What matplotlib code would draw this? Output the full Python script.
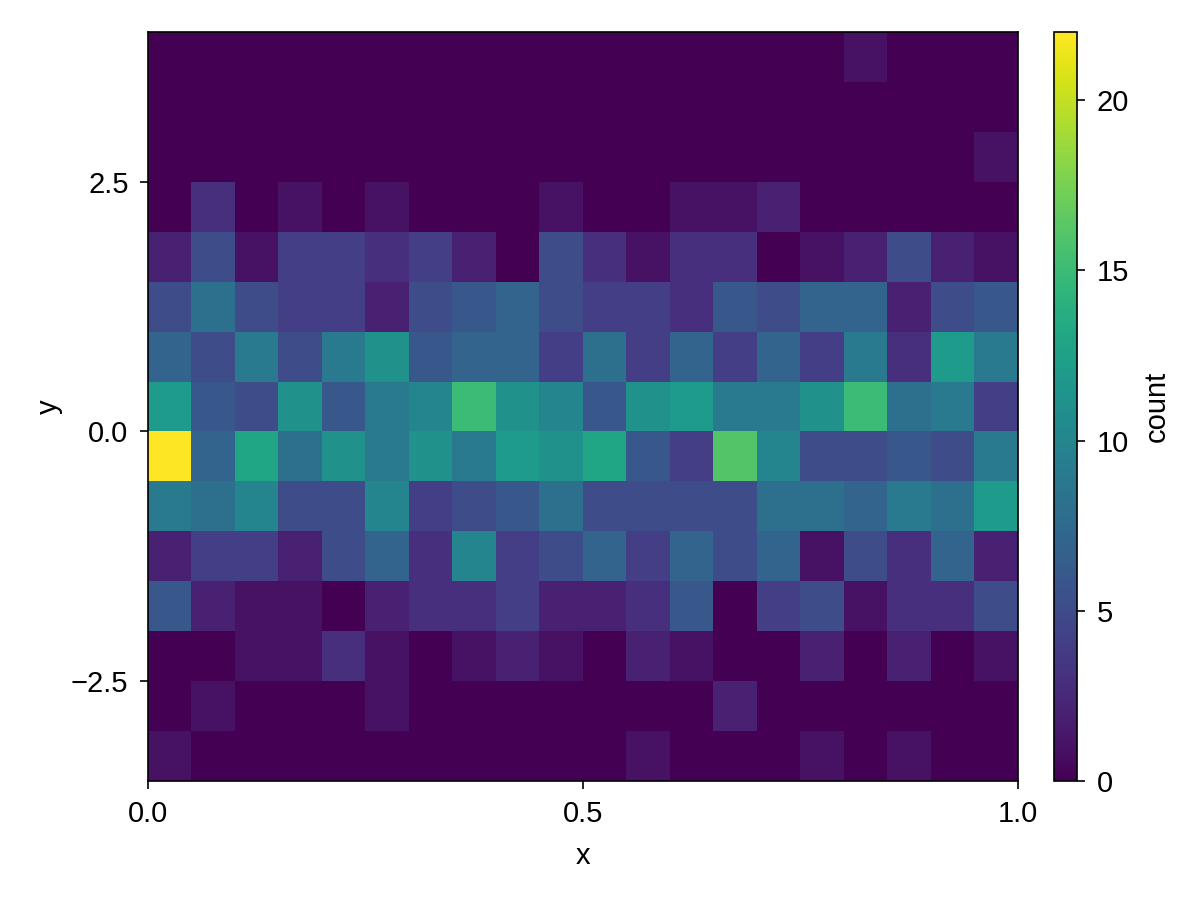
import matplotlib
matplotlib.use("Agg")
import matplotlib.pyplot as plt
import numpy as np

plt.rcParams['font.family'] = ['Liberation Sans', 'DejaVu Sans']
plt.rcParams['font.size'] = 10.5

# bin edges
x_edges = np.linspace(0.0, 1.0, 21)
y_edges = np.arange(-3.5, 4.01, 0.5)

# counts, rows listed from top (y 3.5..4.0) to bottom (y -3.5..-3.0)
counts_top_down = [
    [0, 0, 0, 0, 0, 0, 0, 0, 0, 0, 0, 0, 0, 0, 0, 0, 1, 0, 0, 0],
    [0, 0, 0, 0, 0, 0, 0, 0, 0, 0, 0, 0, 0, 0, 0, 0, 0, 0, 0, 0],
    [0, 0, 0, 0, 0, 0, 0, 0, 0, 0, 0, 0, 0, 0, 0, 0, 0, 0, 0, 1],
    [0, 3, 0, 1, 0, 1, 0, 0, 0, 1, 0, 0, 1, 1, 2, 0, 0, 0, 0, 0],
    [2, 5, 1, 4, 4, 3, 4, 2, 0, 5, 3, 1, 3, 3, 0, 1, 2, 5, 2, 1],
    [5, 8, 5, 4, 4, 2, 5, 6, 7, 5, 4, 4, 3, 6, 5, 7, 7, 2, 5, 6],
    [7, 5, 9, 5, 9, 11, 6, 7, 7, 4, 8, 4, 7, 4, 7, 4, 9, 3, 12, 9],
    [12, 6, 5, 11, 6, 9, 10, 15, 11, 10, 6, 11, 12, 9, 9, 11, 15, 8, 9, 4],
    [22, 7, 13, 8, 11, 9, 11, 9, 12, 11, 13, 6, 4, 16, 10, 5, 5, 6, 5, 9],
    [9, 8, 10, 5, 5, 10, 4, 5, 6, 8, 5, 5, 5, 5, 8, 8, 7, 9, 8, 12],
    [2, 4, 4, 2, 5, 7, 3, 10, 4, 5, 7, 4, 7, 5, 7, 1, 5, 3, 7, 2],
    [6, 2, 1, 1, 0, 2, 3, 3, 4, 2, 2, 3, 6, 0, 4, 5, 1, 3, 3, 5],
    [0, 0, 1, 1, 3, 1, 0, 1, 2, 1, 0, 2, 1, 0, 0, 2, 0, 2, 0, 1],
    [0, 1, 0, 0, 0, 1, 0, 0, 0, 0, 0, 0, 0, 2, 0, 0, 0, 0, 0, 0],
    [1, 0, 0, 0, 0, 0, 0, 0, 0, 0, 0, 1, 0, 0, 0, 1, 0, 1, 0, 0],
]
counts = np.array(counts_top_down[::-1])

fig = plt.figure(figsize=(6, 4.5), dpi=200)
ax = fig.add_axes([0.1233, 0.1322, 0.725, 0.8322])
cax = fig.add_axes([0.8783, 0.1322, 0.0192, 0.8322])

mesh = ax.pcolormesh(x_edges, y_edges, counts, cmap='viridis', vmin=0, vmax=22)
ax.set_xlim(0, 1)
ax.set_ylim(-3.5, 4.0)
ax.set_xticks([0.0, 0.5, 1.0])
ax.set_xticklabels(['0.0', '0.5', '1.0'])
ax.set_yticks([-2.5, 0.0, 2.5])
ax.set_yticklabels(['\u22122.5', '0.0', '2.5'])
ax.tick_params(direction='out', length=3, width=0.6, pad=4)
for s in ax.spines.values():
    s.set_linewidth(0.6)
ax.set_xlabel('x', labelpad=5)
ax.set_ylabel('y', labelpad=3)

cb = fig.colorbar(mesh, cax=cax)
cb.set_ticks([0, 5, 10, 15, 20])
cb.ax.tick_params(direction='out', length=3, width=0.6, pad=4)
cb.outline.set_linewidth(0.6)
cb.set_label('count', labelpad=5)

fig.savefig('out.png', dpi=200)
